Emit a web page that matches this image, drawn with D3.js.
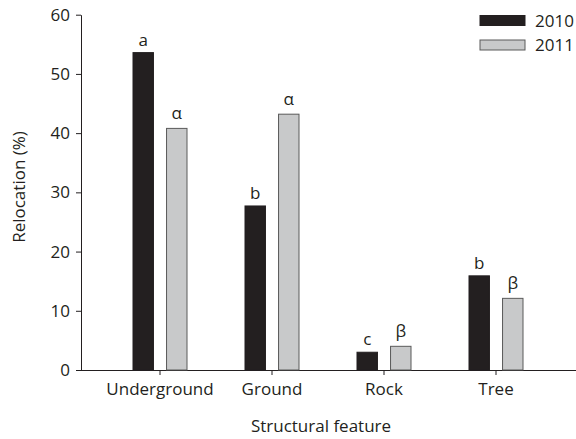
<!DOCTYPE html>
<html><head><meta charset="utf-8">
<script src="https://cdn.jsdelivr.net/npm/d3@7"></script>
<style>body{margin:0;background:#fff}svg text{font-family:"Open Sans","Noto Sans",sans-serif;fill:#231f20}</style>
</head><body><svg id="c" width="576" height="439"></svg>
<script>
const categories = ["Underground","Ground","Rock","Tree"];
const years = ["2010","2011"];
const values2010 = [53.6, 27.7, 3.0, 15.9];
const values2011 = [40.8, 43.2, 4.0, 12.1];
const letters2010 = ["a","b","c","b"];
const letters2011 = ["α","α","β","β"];
const yTicks = [0,10,20,30,40,50,60];

const FS = "17px";
const svg = d3.select("#c");
const y = d3.scaleLinear().domain([0,60]).range([370,14.7]);
const x = d3.scaleBand().domain(categories).range([104,552]);
const sub = d3.scaleBand().domain(years).range([-27, 27]).paddingInner(0.39).paddingOuter(0);
const fills = {"2010":"#231f20","2011":"#c8c9ca"};

// y axis
const ya = svg.append("g").attr("transform","translate(81,0)")
  .call(d3.axisLeft(y).tickValues(yTicks).tickSize(5).tickPadding(6).tickSizeOuter(0));
ya.select(".domain").attr("stroke","#231f20");
ya.selectAll(".tick line").attr("stroke","#231f20");
ya.selectAll("text").style("font-size",FS).attr("fill","#231f20");

// x axis
const xa = svg.append("g").attr("transform","translate(0,370)")
  .call(d3.axisBottom(x).tickSize(5).tickPadding(8).tickSizeOuter(0));
xa.select(".domain").remove();
xa.selectAll(".tick line").attr("stroke","#231f20");
xa.selectAll("text").style("font-size",FS).attr("fill","#231f20");
svg.append("line").attr("x1",81).attr("x2",576).attr("y1",370.5).attr("y2",370.5).attr("stroke","#231f20");

const data = categories.map((c,i)=>({c, v:[values2010[i], values2011[i]], l:[letters2010[i], letters2011[i]]}));
const g = svg.append("g");
data.forEach(d=>{
  years.forEach((yr,j)=>{
    const cx = x(d.c)+x.bandwidth()/2 + sub(yr);
    g.append("rect").attr("x",cx).attr("y",y(d.v[j])).attr("width",sub.bandwidth())
      .attr("height",y(0)-y(d.v[j])).attr("fill",fills[yr])
      .attr("stroke", j===0?"#231f20":"#5a5a5a").attr("stroke-width",1);
    g.append("text").attr("x",cx+sub.bandwidth()/2).attr("y",y(d.v[j])-(j===0?7:9))
      .attr("text-anchor","middle").style("font-size",FS).text(d.l[j]);
  });
});

// labels
svg.append("text").attr("transform","translate(25,187) rotate(-90)").attr("text-anchor","middle")
  .style("font-size",FS).text("Relocation (%)");
svg.append("text").attr("x",321).attr("y",432).attr("text-anchor","middle")
  .style("font-size",FS).text("Structural feature");

// legend
years.forEach((yr,j)=>{
  svg.append("rect").attr("x",480).attr("y",15.5+j*24.5).attr("width",45).attr("height",10)
    .attr("fill",fills[yr]).attr("stroke", j===0?"#231f20":"#5a5a5a");
  svg.append("text").attr("x",535).attr("y",26.5+j*24.5).style("font-size",FS).text(yr);
});
</script></body></html>
